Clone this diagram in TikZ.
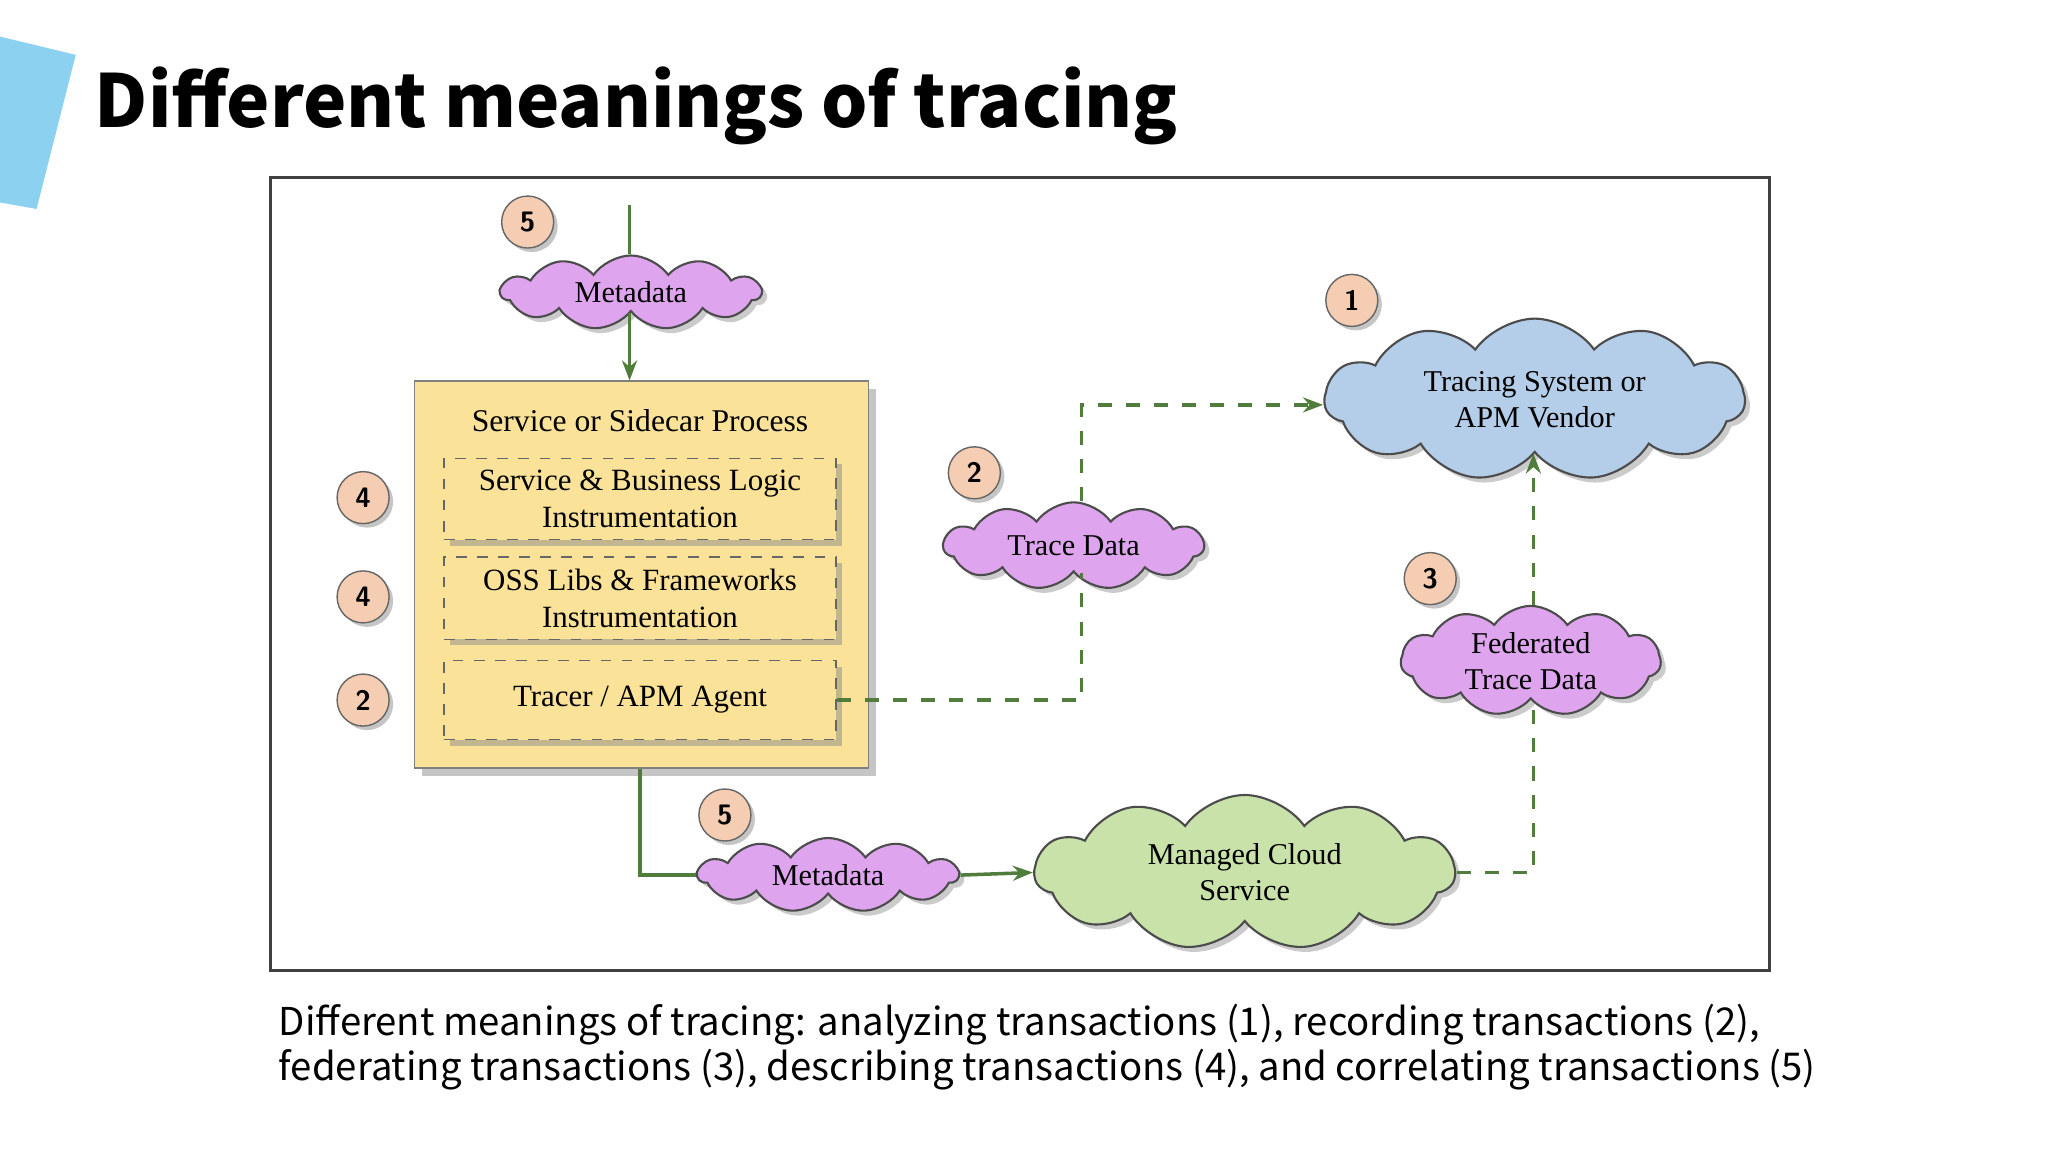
\documentclass[tikz,border=0pt]{standalone}
\usepackage{fontspec}
\setmainfont{Liberation Serif}
\newfontfamily\slidefont{Noto Sans CJK KR}
\usetikzlibrary{shapes.symbols,shadows,arrows.meta}
\definecolor{arrgreen}{RGB}{80,125,60}
\definecolor{cpurple}{RGB}{222,165,238}
\definecolor{cblue}{RGB}{180,205,232}
\definecolor{cgreen}{RGB}{200,226,170}
\definecolor{boxyellow}{RGB}{250,226,152}
\definecolor{numfill}{RGB}{245,205,178}
\definecolor{tabblue}{RGB}{140,210,240}
\tikzset{
  cloudnode/.style={cloud, cloud puffs=11, cloud puff arc=110, aspect=3, draw=black!70, line width=0.6pt, align=center, font=\fontsize{8.6}{10.3}\selectfont, inner sep=0pt, drop shadow={shadow xshift=0.5mm, shadow yshift=-0.5mm, fill=black!40}},
  numc/.style={circle, draw=black!60, fill=numfill, minimum size=0.52cm, inner sep=0pt, font=\sffamily\bfseries\fontsize{8}{8}\selectfont, drop shadow={shadow xshift=0.4mm, shadow yshift=-0.4mm, fill=black!45}},
  innerbox/.style={draw=black!60, dashed, fill=boxyellow, minimum width=3.92cm, minimum height=0.79cm, align=center, font=\fontsize{8.8}{10.5}\selectfont, drop shadow={shadow xshift=0.6mm, shadow yshift=-0.6mm, fill=black!45}},
  solidarr/.style={arrgreen, line width=1pt, -{Stealth[length=2mm]}},
  dasharr/.style={arrgreen, line width=1pt, dashed, dash pattern=on 4pt off 4pt, -{Stealth[length=2mm]}},
  dashln/.style={arrgreen, line width=1pt, dash pattern=on 4pt off 4pt},
  captxt/.style={anchor=base west, inner sep=0pt, font=\slidefont\fontsize{10.9}{13}\selectfont},
}
\begin{document}
\begin{tikzpicture}[x=0.01306cm, y=-0.01306cm]
\useasboundingbox (0,0) rectangle (1568,882);
\fill[white] (0,0) rectangle (1568,882);
\fill[tabblue] (0,28) -- (58,42) -- (28,160) -- (0,155) -- cycle;
\node[anchor=base west, inner sep=0pt, font=\slidefont\bfseries\fontsize{20.8}{25}\selectfont] (title) at (72,98) {Different meanings of tracing};
\draw[black!75, line width=0.8pt] (207,136) rectangle (1355,743);
% yellow box
\node[draw=black!50, fill=boxyellow, minimum width=4.54cm, minimum height=3.87cm, drop shadow={shadow xshift=0.8mm, shadow yshift=-0.8mm, fill=black!45}] (box) at (491,440) {};
\node[font=\fontsize{9}{11}\selectfont] (boxtitle) at (490,322) {Service or Sidecar Process};
\node[innerbox] (sbl) at (490,382) {Service \& Business Logic\\Instrumentation};
\node[innerbox] (oss) at (490,458) {OSS Libs \& Frameworks\\Instrumentation};
\node[innerbox] (tracer) at (490,536) {Tracer / APM Agent};
% clouds
\node[cloudnode, fill=cpurple, minimum width=2.6cm, minimum height=0.68cm] (meta1) at (483,224) {Metadata};
\node[cloudnode, fill=cpurple, minimum width=2.6cm, minimum height=0.68cm] (trace) at (822,418) {Trace Data};
\node[cloudnode, fill=cpurple, minimum width=2.6cm, minimum height=1.1cm, aspect=2.2] (fed) at (1172,506) {Federated\\Trace Data};
\node[cloudnode, fill=cpurple, minimum width=2.6cm, minimum height=0.7cm] (meta2) at (634,670) {Metadata};
\node[cloudnode, fill=cblue, minimum width=4.2cm, minimum height=1.5cm, aspect=2.6] (tsys) at (1175,306) {Tracing System or\\APM Vendor};
\node[cloudnode, fill=cgreen, minimum width=4.2cm, minimum height=1.55cm, aspect=2.6] (mcs) at (953,668) {Managed Cloud\\Service};
% numbers
\node[numc] (n5a) at (404,170) {5};
\node[numc] (n1) at (1035,230) {1};
\node[numc] (n2a) at (746,362) {2};
\node[numc] (n4a) at (278,381) {4};
\node[numc] (n4b) at (278,457) {4};
\node[numc] (n2b) at (278,536) {2};
\node[numc] (n3) at (1095,443) {3};
\node[numc] (n5b) at (555,624) {5};
% connectors
\coordinate (topin) at (482,157);
\draw[arrgreen, line width=1pt] (topin) -- (meta1.north -| topin);
\draw[solidarr] (meta1.south -| topin) -- (box.north -| topin);
\draw[arrgreen, line width=1pt] (box.south -| 490,0) |- (meta2.west);
\draw[solidarr] (meta2.east) -- (mcs.west);
\draw[dashln] (tracer.east) -| (trace.south -| 828,0);
\draw[dasharr] (trace.north -| 828,0) |- (tsys.west |- 0,310);
\draw[dashln] (mcs.east) -| (fed.south -| 1174,0);
\draw[dasharr] (fed.north -| 1174,0) -- (tsys.south -| 1174,0);
% caption
\node[captxt] (cap1) at (213,793) {Different meanings of tracing: analyzing transactions (1), recording transactions (2),};
\node[captxt] (cap2) at (213,827) {federating transactions (3), describing transactions (4), and correlating transactions (5)};
\end{tikzpicture}
\end{document}
